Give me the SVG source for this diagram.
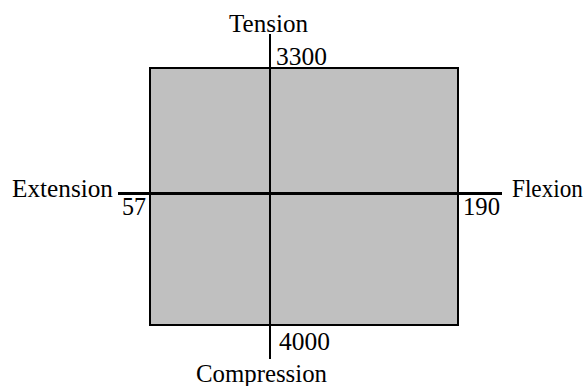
<svg xmlns="http://www.w3.org/2000/svg" width="588" height="386" viewBox="0 0 588 386">
<style>
text{font-family:'Liberation Serif','Times New Roman',Times,serif;font-size:25px;fill:#000}
.ax{stroke:#000;fill:none}
</style>
<rect width="588" height="386" fill="#fff"/>
<g id="region"><rect x="150" y="68" width="308" height="257" fill="#c0c0c0" stroke="#000" stroke-width="2"/></g>
<g id="axes">
<line class="ax" x1="270" y1="34" x2="270" y2="359" stroke-width="2"/>
<line class="ax" x1="118" y1="193.5" x2="502" y2="193.5" stroke-width="3"/>
</g>
<g id="tension"><text x="229" y="32" textLength="79" lengthAdjust="spacingAndGlyphs">Tension</text></g>
<g id="t3300"><text x="276" y="65" textLength="51" lengthAdjust="spacingAndGlyphs">3300</text></g>
<g id="extension"><text x="12" y="197" textLength="101" lengthAdjust="spacingAndGlyphs">Extension</text></g>
<g id="t57"><text x="122" y="215" textLength="24" lengthAdjust="spacingAndGlyphs">57</text></g>
<g id="t190"><text x="463" y="215" textLength="37" lengthAdjust="spacingAndGlyphs">190</text></g>
<g id="flexion"><text x="512" y="197" textLength="71" lengthAdjust="spacingAndGlyphs">Flexion</text></g>
<g id="t4000"><text x="279" y="350" textLength="51" lengthAdjust="spacingAndGlyphs">4000</text></g>
<g id="compression"><text x="196" y="382" textLength="131" lengthAdjust="spacingAndGlyphs">Compression</text></g>
</svg>
